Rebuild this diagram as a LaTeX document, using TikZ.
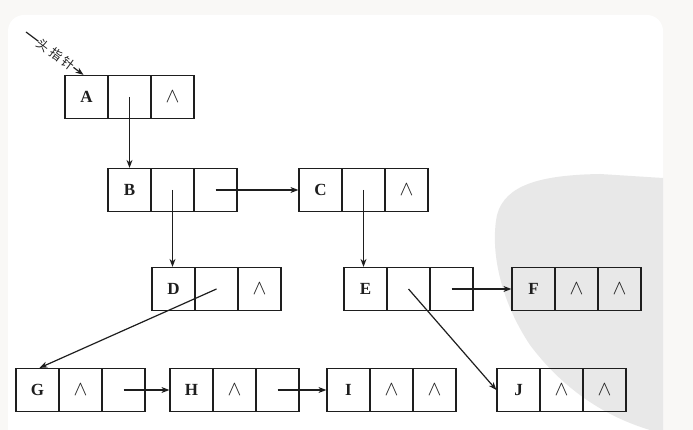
\documentclass[tikz,border=0pt]{standalone}
\usepackage{fontspec}
\setmainfont{Liberation Serif}
\newfontfamily\cjk{Noto Sans CJK SC}
\usetikzlibrary{arrows.meta}
\definecolor{outerbg}{RGB}{249,248,246}
\definecolor{wmgray}{RGB}{232,232,232}
\definecolor{ink}{RGB}{30,30,30}
\tikzset{
  cell/.style={draw=ink, line width=1.2pt, minimum width=43pt, minimum height=43pt,
    inner sep=0pt, text=ink, font=\fontsize{17}{17}\selectfont\bfseries},
  arr/.style={draw=ink, line width=1.2pt, -{Stealth[length=8pt,width=6pt]}},
}
\newcommand\nul{\fontsize{22}{22}\selectfont\mdseries$\wedge$}
\newcommand\lnode[6]{%
  \node[cell] (#11) at (#2+21.5,#3) {#4};
  \node[cell] (#12) at (#2+64.5,#3) {#5};
  \node[cell] (#13) at (#2+107.5,#3) {#6};
}
\begin{document}
\begin{tikzpicture}[x=1pt,y=-1pt]
\useasboundingbox (0,0) rectangle (693,430);
\clip (0,0) rectangle (693,430);
\fill[outerbg] (0,0) rectangle (693,430);
\fill[white, rounded corners=16pt] (8,15) rectangle (663,460);
% watermark
\fill[wmgray] (663,178) -- (600,174) .. controls (540,175) and (505,185) .. (497,215)
  .. controls (490,250) and (500,300) .. (530,345)
  .. controls (560,385) and (600,415) .. (650,430) -- (663,430) -- cycle;
% nodes
\lnode{A}{65}{97}{A}{}{\nul}
\lnode{B}{108}{190}{B}{}{}
\lnode{C}{299}{190}{C}{}{\nul}
\lnode{D}{152}{289}{D}{}{\nul}
\lnode{E}{344}{289}{E}{}{}
\lnode{F}{512}{289}{F}{\nul}{\nul}
\lnode{G}{16}{390}{G}{\nul}{}
\lnode{H}{170}{390}{H}{\nul}{}
\lnode{I}{327}{390}{I}{\nul}{\nul}
\lnode{J}{497}{390}{J}{\nul}{\nul}
% head pointer
\coordinate (hp) at (26,32);
\draw[arr] (hp) -- ([xshift=-3pt]A1.north)
  node[pos=0.52, sloped, fill=white, inner sep=0pt, text=ink,
       font=\cjk\fontsize{12.5}{12.5}\selectfont] {头\hspace{3pt}指\hspace{3pt}针};
% connectors
\draw[arr] (A2.center) -- (B1.north);
\draw[arr] (B2.center) -- (B2.center |- D1.north);
\draw[arr] (B3.center) -- (C1.west);
\draw[arr] (C2.center) -- (C2.center |- E1.north);
\draw[arr] (D2.center) -- ([xshift=2pt]G1.north);
\draw[arr] (E2.center) -- (J1.west);
\draw[arr] (E3.center) -- (F1.west);
\draw[arr] (G3.center) -- (H1.west);
\draw[arr] (H3.center) -- (I1.west);
\end{tikzpicture}
\end{document}
